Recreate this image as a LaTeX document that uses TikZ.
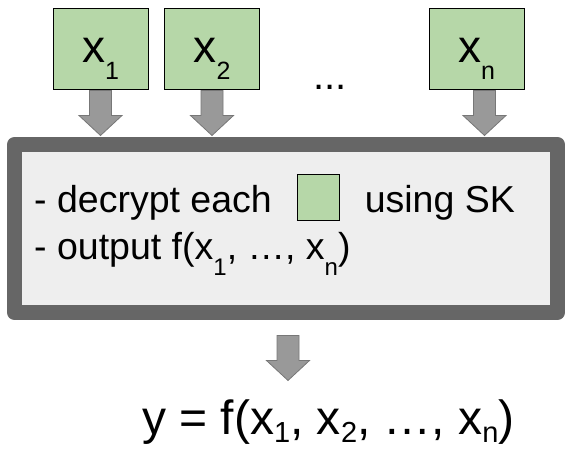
\documentclass[tikz,border=0pt]{standalone}
\usepackage{fontspec}
\setmainfont{Liberation Sans}
\usetikzlibrary{calc}
\definecolor{boxgreen}{HTML}{B6D7A8}
\definecolor{framegray}{HTML}{666666}
\definecolor{panelgray}{HTML}{EEEEEE}
\definecolor{arrowfill}{HTML}{999999}
\definecolor{arrowline}{HTML}{777777}
\newcommand\lowsub[3]{\raisebox{-#2}{\fontsize{#1}{#1}\selectfont #3}}
\newcommand\blockarrow[1]{\draw[barrow] (#1) ++(-11,0) -- ++(0,25) -- ++(-10.5,0) -- ++(21.5,20) -- ++(21.5,-20) -- ++(-10.5,0) -- ++(0,-25) -- cycle;}
\begin{document}
\begin{tikzpicture}[x=1pt,y=-1pt,
  inbox/.style={draw=black, line width=1pt, fill=boxgreen, minimum width=95pt, minimum height=81pt, inner sep=0pt, font=\fontsize{46}{46}\selectfont},
  panel/.style={draw=framegray, line width=15pt, line join=round, fill=panelgray, minimum width=543pt, minimum height=168pt, inner sep=0pt},
  barrow/.style={fill=arrowfill, draw=arrowline, line width=0.8pt, line join=miter},
  bodytext/.style={anchor=base west, inner sep=0pt, font=\fontsize{37.5}{37.5}\selectfont}]
\path[use as bounding box] (0,0) rectangle (566,449);
\node[inbox] (b1) at (100.5,49.5) {\smash{\raisebox{-13.5pt}{x\lowsub{25}{17pt}{1}}}};
\node[inbox] (b2) at (212,49.5) {\smash{\raisebox{-13.5pt}{x\lowsub{25}{17pt}{2}}}};
\node[inbox] (bn) at (476.5,49.5) {\smash{\raisebox{-13.5pt}{x\lowsub{25}{17pt}{n}}}};
\node[anchor=base, inner sep=0pt, font=\fontsize{40}{40}\selectfont] (dots) at (330,90) {...};
\node[panel] (panel) at (286,228.5) {};
\blockarrow{b1.south}
\blockarrow{b2.south}
\blockarrow{$(bn.south)+(8,0)$}
\node[bodytext] (l1) at (34,213) {- decrypt each\hspace{25pt}{\fboxsep=0pt\fboxrule=1pt\fcolorbox{black}{boxgreen}{\rule[-7pt]{0pt}{45pt}\hspace*{41pt}}}\hspace{25pt}using SK};
\node[bodytext] (l2) at (34,260) {- output f(x\lowsub{24}{16pt}{1}, …, x\lowsub{24}{16pt}{n})};
\blockarrow{$(panel.south)+(2,15.5)$}
\node[anchor=base west, inner sep=0pt, font=\fontsize{48}{48}\selectfont] (y) at (142,435) {y = f(x\lowsub{29}{8pt}{1}, x\lowsub{29}{8pt}{2}, …, x\lowsub{29}{8pt}{n})};
\end{tikzpicture}
\end{document}
